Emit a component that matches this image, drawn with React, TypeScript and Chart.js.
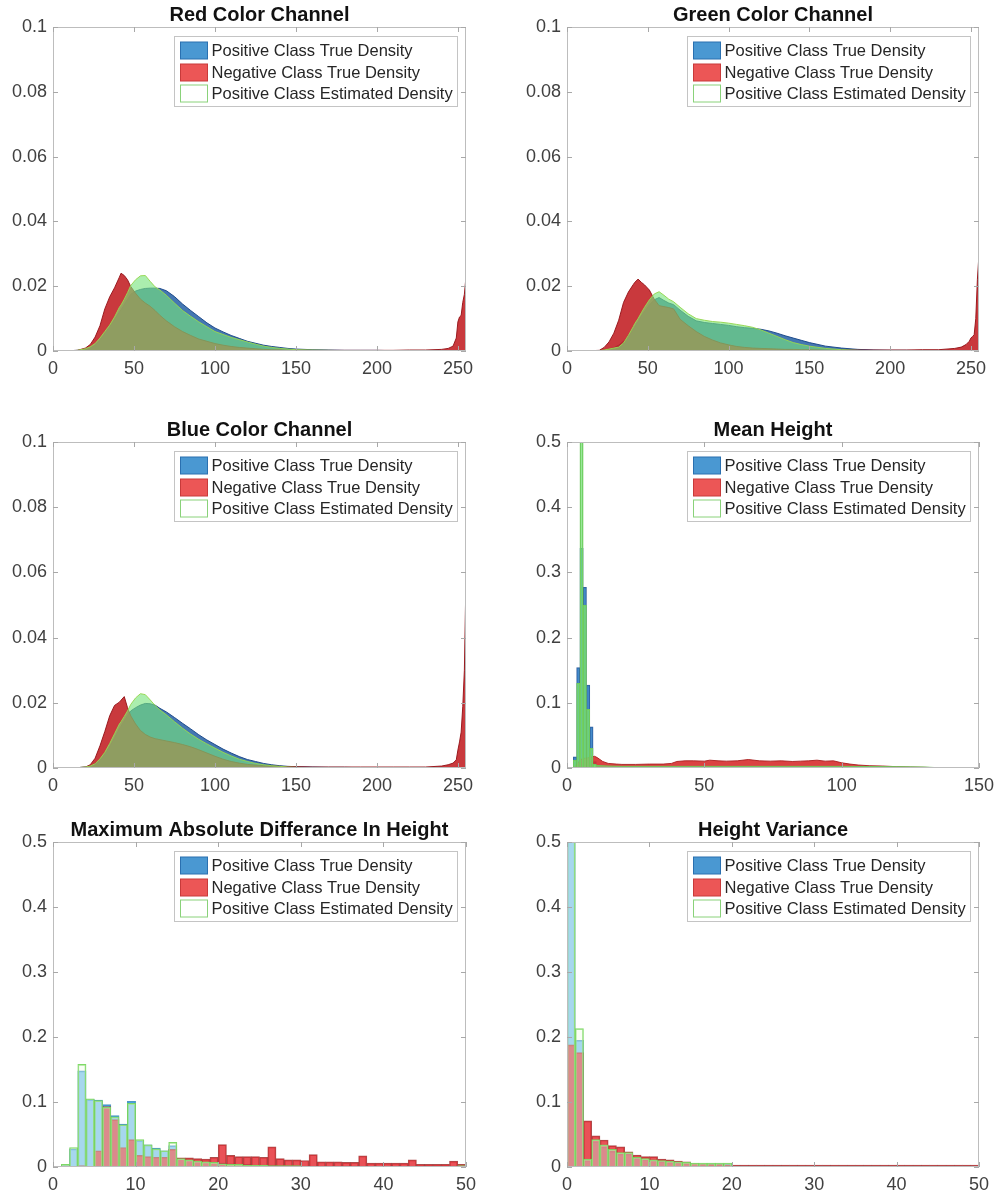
import React, { useEffect, useRef } from 'react';
import { Chart, registerables } from 'chart.js';

Chart.register(...registerables);

const FONT = '"Liberation Sans", Arial, Helvetica, sans-serif';
Chart.defaults.font.family = FONT;

// ---------------- DATA ----------------
const LEGEND_LABELS = [
  'Positive Class True Density',
  'Negative Class True Density',
  'Positive Class Estimated Density',
];

const TITLES = [
  'Red Color Channel',
  'Green Color Channel',
  'Blue Color Channel',
  'Mean Height',
  'Maximum Absolute Differance In Height',
  'Height Variance',
];

// colour channel histograms (intensity 0..255)
const X_RGB = [
  0, 5, 10, 15, 20, 23, 26, 29, 32, 35,
  38, 41, 42, 44, 46, 48, 51, 54, 57, 60,
  63, 66, 70, 75, 80, 85, 90, 95, 100, 105,
  110, 115, 120, 125, 130, 135, 140, 145, 150, 160,
  170, 180, 190, 200, 210, 220, 230, 240, 244, 247,
  249, 250, 251, 252, 253, 254, 255,
];

const RED_POS = [
  0, 0, 0.0001, 0.0002, 0.0005, 0.001, 0.0019, 0.0035, 0.0055, 0.0075,
  0.0098, 0.012, 0.0127, 0.0143, 0.0159, 0.0175, 0.0185, 0.019, 0.0193, 0.0194,
  0.0194, 0.0193, 0.0186, 0.0168, 0.0145, 0.0125, 0.0106, 0.0087, 0.0071, 0.0059,
  0.0048, 0.0039, 0.003, 0.0024, 0.0018, 0.0014, 0.0011, 0.0008, 0.0006, 0.0004,
  0.0003, 0.0002, 0.0002, 0.0002, 0.0001, 0.0001, 0.0001, 0.0001, 0.0001, 0.0001,
  0.0001, 0.0001, 0.0001, 0.0001, 0.0001, 0.0001, 0.0002,
];
const RED_NEG = [
  0, 0, 0.0001, 0.0002, 0.0009, 0.002, 0.0043, 0.0078, 0.013, 0.0167,
  0.0195, 0.0228, 0.024, 0.0233, 0.022, 0.0199, 0.0178, 0.016, 0.0148, 0.0138,
  0.0125, 0.011, 0.0093, 0.0075, 0.006, 0.0048, 0.0037, 0.003, 0.0023, 0.0018,
  0.0014, 0.0011, 0.0009, 0.0007, 0.0005, 0.0004, 0.0004, 0.0003, 0.0003, 0.0002,
  0.0002, 0.0002, 0.0002, 0.0002, 0.0002, 0.0003, 0.0003, 0.0005, 0.0008, 0.0015,
  0.004, 0.009, 0.0105, 0.011, 0.015, 0.0175, 0.023,
];
const RED_EST = [
  0, 0, 0, 0.0002, 0.0007, 0.0013, 0.0023, 0.004, 0.006, 0.008,
  0.0105, 0.0135, 0.0142, 0.016, 0.018, 0.0202, 0.022, 0.0232, 0.0233, 0.0215,
  0.0198, 0.0188, 0.0172, 0.0148, 0.0125, 0.0107, 0.009, 0.0075, 0.006, 0.0051,
  0.0042, 0.0035, 0.0028, 0.0021, 0.0015, 0.0011, 0.0008, 0.0006, 0.0004, 0.0003,
  0.0002, 0.0001, 0.0001, 0.0001, 0.0001, 0.0001, 0.0001, 0.0001, 0.0001, 0.0001,
  0.0001, 0.0001, 0.0001, 0.0001, 0.0001, 0.0001, 0.0001,
];

const GREEN_POS = [
  0, 0, 0, 0, 0.0001, 0.0003, 0.0006, 0.001, 0.0018, 0.003,
  0.0045, 0.0068, 0.0075, 0.009, 0.0108, 0.0122, 0.0142, 0.0158, 0.0165, 0.0156,
  0.0148, 0.0143, 0.0126, 0.0107, 0.0093, 0.0088, 0.0085, 0.0082, 0.0079, 0.0075,
  0.0072, 0.007, 0.0067, 0.0062, 0.0055, 0.0047, 0.004, 0.0033, 0.0026, 0.0015,
  0.0009, 0.0005, 0.0003, 0.0002, 0.0002, 0.0001, 0.0001, 0.0001, 0.0001, 0.0001,
  0.0001, 0.0001, 0.0001, 0.0001, 0.0001, 0.0001, 0.0001,
];
const GREEN_NEG = [
  0, 0, 0, 0.0001, 0.0002, 0.0011, 0.0028, 0.0055, 0.0095, 0.015,
  0.0182, 0.0205, 0.0212, 0.0222, 0.0212, 0.0204, 0.0188, 0.016, 0.014, 0.0137,
  0.0134, 0.013, 0.0098, 0.0078, 0.006, 0.0045, 0.0034, 0.0025, 0.0019, 0.0014,
  0.0011, 0.0009, 0.0008, 0.0007, 0.0006, 0.0005, 0.0005, 0.0004, 0.0004, 0.0003,
  0.0003, 0.0003, 0.0003, 0.0003, 0.0003, 0.0004, 0.0004, 0.0008, 0.0012, 0.002,
  0.003, 0.004, 0.0045, 0.005, 0.01, 0.022, 0.03,
];
const GREEN_EST = [
  0, 0, 0, 0, 0.0001, 0.0003, 0.0006, 0.0009, 0.0012, 0.0025,
  0.0048, 0.0075, 0.0085, 0.01, 0.0118, 0.0135, 0.0158, 0.0176, 0.0183, 0.0172,
  0.016, 0.0152, 0.0135, 0.0115, 0.01, 0.0095, 0.0091, 0.0089, 0.0086, 0.0082,
  0.0078, 0.0073, 0.0065, 0.0055, 0.0045, 0.0035, 0.0026, 0.002, 0.0015, 0.0008,
  0.0004, 0.0002, 0.0001, 0.0001, 0.0001, 0.0001, 0.0001, 0, 0, 0,
  0, 0, 0, 0, 0, 0, 0,
];

const BLUE_POS = [
  0, 0, 0, 0.0001, 0.0003, 0.0006, 0.0014, 0.0025, 0.0045, 0.0065,
  0.0092, 0.012, 0.0128, 0.0145, 0.016, 0.0175, 0.0185, 0.0193, 0.0198, 0.0197,
  0.0193, 0.0183, 0.0172, 0.0155, 0.0137, 0.012, 0.0102, 0.0086, 0.0072, 0.0058,
  0.0046, 0.0035, 0.0026, 0.002, 0.0014, 0.001, 0.0007, 0.0005, 0.0004, 0.0003,
  0.0002, 0.0002, 0.0001, 0.0001, 0.0001, 0.0001, 0.0001, 0.0001, 0.0001, 0.0001,
  0.0001, 0.0001, 0.0001, 0.0001, 0.0001, 0.0001, 0.0002,
];
const BLUE_NEG = [
  0, 0, 0, 0.0001, 0.0003, 0.001, 0.003, 0.0068, 0.0112, 0.016,
  0.0192, 0.0202, 0.0208, 0.0219, 0.0185, 0.016, 0.0135, 0.0115, 0.0103, 0.0095,
  0.009, 0.0087, 0.0083, 0.0078, 0.0072, 0.0065, 0.0056, 0.0046, 0.0036, 0.0027,
  0.002, 0.0015, 0.0011, 0.0009, 0.0007, 0.0006, 0.0005, 0.0004, 0.0004, 0.0003,
  0.0003, 0.0003, 0.0003, 0.0003, 0.0003, 0.0003, 0.0003, 0.0006, 0.001, 0.0015,
  0.0025, 0.0055, 0.008, 0.011, 0.0188, 0.03, 0.059,
];
const BLUE_EST = [
  0, 0, 0, 0.0001, 0.0003, 0.0006, 0.0013, 0.0028, 0.0048, 0.0075,
  0.0105, 0.0135, 0.0142, 0.0158, 0.0175, 0.0195, 0.0215, 0.0228, 0.0225, 0.0209,
  0.0192, 0.0178, 0.0163, 0.0142, 0.0122, 0.0104, 0.0088, 0.0074, 0.0061, 0.0048,
  0.0037, 0.0027, 0.002, 0.0014, 0.001, 0.0007, 0.0005, 0.0003, 0.0002, 0.0001,
  0.0001, 0, 0, 0, 0, 0, 0, 0, 0, 0,
  0, 0, 0, 0, 0, 0, 0,
];

// Mean height
const MH_BIN_X = [2.9, 4.1, 5.3, 6.5, 7.7, 8.9, 10.1, 11.3];
const MH_POS = [0.017, 0.154, 0.337, 0.277, 0.127, 0.063, 0.01, 0.003];
const MH_EST = [0.012, 0.13, 0.53, 0.25, 0.09, 0.03, 0.006, 0.002];
const MH_NEG_X = [
  0, 2, 3, 4, 5, 6, 7, 8, 9, 10,
  11, 12, 13, 15, 18, 20, 25, 30, 35, 38,
  40, 43, 46, 50, 52, 55, 58, 62, 66, 70,
  74, 78, 82, 85, 88, 91, 94, 97, 100, 103,
  106, 110, 115, 120, 125, 130, 135, 140, 150,
];
const MH_NEG = [
  0, 0, 0.002, 0.008, 0.013, 0.015, 0.015, 0.016, 0.017, 0.018,
  0.016, 0.013, 0.01, 0.007, 0.006, 0.0055, 0.0055, 0.006, 0.006, 0.007,
  0.01, 0.011, 0.011, 0.0105, 0.012, 0.011, 0.0105, 0.011, 0.013, 0.011,
  0.0105, 0.011, 0.01, 0.0105, 0.011, 0.012, 0.0105, 0.011, 0.008, 0.006,
  0.0046, 0.0035, 0.003, 0.002, 0.0015, 0.001, 0.0004, 0, 0,
];
const MH_EST_TAIL_X = [9.5, 10, 15, 20, 40, 60, 80, 100, 120, 130, 135, 140];
const MH_EST_TAIL = [0, 0.004, 0.003, 0.0025, 0.0025, 0.0025, 0.0025, 0.0025, 0.002, 0.0015, 0.0005, 0];

// unit-width bins 0..51 (the last one sits just past the axis limit)
const BIN50_X = [
  0.5, 1.5, 2.5, 3.5, 4.5, 5.5, 6.5, 7.5, 8.5, 9.5,
  10.5, 11.5, 12.5, 13.5, 14.5, 15.5, 16.5, 17.5, 18.5, 19.5,
  20.5, 21.5, 22.5, 23.5, 24.5, 25.5, 26.5, 27.5, 28.5, 29.5,
  30.5, 31.5, 32.5, 33.5, 34.5, 35.5, 36.5, 37.5, 38.5, 39.5,
  40.5, 41.5, 42.5, 43.5, 44.5, 45.5, 46.5, 47.5, 48.5, 49.5,
  50.5,
];

const MAD_POS = [
  0, 0.003, 0.028, 0.148, 0.104, 0.103, 0.096, 0.079, 0.066, 0.101,
  0.041, 0.034, 0.029, 0.025, 0.033, 0.013, 0.011, 0.009, 0.008, 0.007,
  0.006, 0.005, 0.004, 0.004, 0.003, 0.003, 0.003, 0.002, 0.002, 0.002,
  0.001, 0.001, 0.001, 0.001, 0.001, 0.001, 0.001, 0.001, 0.001, 0.001,
  0.001, 0.001, 0.001, 0.001, 0.001, 0.001, 0.001, 0.001, 0.001, 0.001,
  0,
];
const MAD_NEG = [
  0, 0, 0.001, 0.002, 0.001, 0.025, 0.093, 0.073, 0.03, 0.042,
  0.018, 0.016, 0.015, 0.015, 0.027, 0.014, 0.014, 0.013, 0.012, 0.015,
  0.0345, 0.018, 0.016, 0.016, 0.016, 0.015, 0.031, 0.013, 0.011, 0.011,
  0.01, 0.019, 0.008, 0.008, 0.008, 0.007, 0.007, 0.017, 0.006, 0.006,
  0.006, 0.006, 0.006, 0.011, 0.004, 0.004, 0.004, 0.004, 0.009, 0.004,
  0,
];
const MAD_EST = [
  0.001, 0.004, 0.03, 0.158, 0.105, 0.102, 0.092, 0.077, 0.065, 0.098,
  0.042, 0.034, 0.028, 0.025, 0.038, 0.013, 0.011, 0.009, 0.008, 0.007,
  0.005, 0.004, 0.004, 0.003, 0.003, 0.003, 0.002, 0.002, 0.002, 0.002,
  0.001, 0.001, 0.001, 0.001, 0.001, 0.001, 0.001, 0.001, 0.001, 0.001,
  0.001, 0.001, 0.001, 0.001, 0.001, 0.001, 0.001, 0.001, 0.001, 0.002,
  0.028,
];

const HV_POS = [
  0.56, 0.195, 0.01, 0.039, 0.031, 0.024, 0.02, 0.02, 0.014, 0.012,
  0.011, 0.009, 0.008, 0.007, 0.006, 0.005, 0.005, 0.005, 0.005, 0.005,
  0.001, 0.001, 0.001, 0.001, 0.001, 0.001, 0.001, 0.001, 0.001, 0.001,
  0.001, 0.001, 0.001, 0.001, 0.001, 0.001, 0.001, 0.001, 0.001, 0.001,
  0.001, 0.001, 0.001, 0.001, 0.001, 0.001, 0.001, 0.001, 0.001, 0.001,
  0,
];
const HV_NEG = [
  0.188, 0.176, 0.071, 0.048, 0.0415, 0.033, 0.031, 0.0235, 0.0185, 0.016,
  0.016, 0.012, 0.011, 0.009, 0.008, 0.0056, 0.0046, 0.004, 0.004, 0.0035,
  0.003, 0.003, 0.003, 0.003, 0.003, 0.003, 0.003, 0.003, 0.003, 0.003,
  0.003, 0.003, 0.003, 0.003, 0.003, 0.003, 0.003, 0.003, 0.003, 0.003,
  0.003, 0.003, 0.003, 0.003, 0.003, 0.003, 0.003, 0.003, 0.003, 0.003,
  0,
];
const HV_EST = [
  0.6, 0.213, 0.012, 0.042, 0.034, 0.027, 0.022, 0.022, 0.015, 0.013,
  0.011, 0.01, 0.009, 0.008, 0.007, 0.006, 0.006, 0.006, 0.006, 0.006,
  0.001, 0.001, 0.001, 0.001, 0.001, 0.001, 0.001, 0.001, 0.001, 0.001,
  0.001, 0.001, 0.001, 0.001, 0.001, 0.001, 0.001, 0.001, 0.001, 0.001,
  0.001, 0.001, 0.001, 0.001, 0.001, 0.001, 0.001, 0.001, 0.001, 0.001,
  0,
];

// ---------------- STYLE ----------------
const AREA = {
  pos: { bg: 'rgba(35,95,165,0.85)', bd: 'rgba(25,70,135,0.95)' },
  neg: { bg: 'rgba(195,35,40,0.9)', bd: 'rgba(150,20,25,0.95)' },
  est: { bg: 'rgba(120,228,125,0.62)', bd: 'rgba(150,215,80,0.95)' },
};
const MH = {
  pos: { bg: 'rgba(50,130,200,0.85)', bd: 'rgba(30,80,150,0.9)' },
  neg: { bg: 'rgba(215,45,45,0.9)', bd: 'rgba(170,30,30,0.9)' },
  est: { bg: 'rgba(120,228,125,0.6)', bd: 'rgba(110,200,90,1)' },
};
const BARS = {
  pos: { bg: 'rgba(40,155,235,0.62)', bd: 'rgba(60,140,190,0.9)' },
  neg: { bg: 'rgba(228,38,45,0.8)', bd: 'rgba(160,45,45,0.85)' },
  est: { bg: 'rgba(240,252,232,0.38)', bd: 'rgba(120,215,95,0.95)' },
};
const SWATCH = [
  { bg: '#4a98d2', bd: '#2a70b0' },
  { bg: '#ec5656', bd: '#c83a3a' },
  { bg: '#ffffff', bd: '#8ad27a' },
];

const pts = (xs: number[], ys: number[]) => xs.map((x, i) => ({ x, y: ys[i] }));

function framePlugin(title: string) {
  return {
    id: 'frame',
    afterDraw(chart: any) {
      const { ctx, chartArea: a, scales } = chart;
      const xs = scales.x;
      const ys = scales.y;
      ctx.save();
      ctx.strokeStyle = '#bdbdbd';
      ctx.lineWidth = 1;
      ctx.strokeRect(a.left + 0.5, a.top + 0.5, a.right - a.left - 1, a.bottom - a.top - 1);
      ctx.strokeStyle = '#a8a8a8';
      ctx.beginPath();
      xs.ticks.forEach((t: any) => {
        const px = Math.round(xs.getPixelForValue(t.value)) + 0.5;
        ctx.moveTo(px, a.bottom);
        ctx.lineTo(px, a.bottom - 5);
        ctx.moveTo(px, a.top);
        ctx.lineTo(px, a.top + 5);
      });
      ys.ticks.forEach((t: any) => {
        const py = Math.round(ys.getPixelForValue(t.value)) + 0.5;
        ctx.moveTo(a.left, py);
        ctx.lineTo(a.left + 5, py);
        ctx.moveTo(a.right, py);
        ctx.lineTo(a.right - 5, py);
      });
      ctx.stroke();
      ctx.fillStyle = '#111111';
      ctx.font = 'bold 20px ' + FONT;
      ctx.textAlign = 'center';
      ctx.textBaseline = 'middle';
      ctx.fillText(title, (a.left + a.right) / 2, a.top - 12);
      const w = 283;
      const h = 70;
      const bx = Math.round(a.right - 9 - w) + 0.5;
      const by = Math.round(a.top + 9) + 0.5;
      ctx.fillStyle = '#ffffff';
      ctx.fillRect(bx, by, w, h);
      ctx.strokeStyle = '#c4c4c4';
      ctx.strokeRect(bx, by, w, h);
      const rows = [14, 36, 57];
      ctx.font = '16.5px ' + FONT;
      ctx.textAlign = 'left';
      LEGEND_LABELS.forEach((lab, i) => {
        const cy = by + rows[i];
        ctx.fillStyle = SWATCH[i].bg;
        ctx.fillRect(bx + 6, cy - 8.5, 27, 17);
        ctx.strokeStyle = SWATCH[i].bd;
        ctx.strokeRect(bx + 6, cy - 8.5, 27, 17);
        ctx.fillStyle = '#262626';
        ctx.fillText(lab, bx + 37, cy + 1);
      });
      ctx.restore();
    },
  };
}

const fmtTick = (v: any) => String(Number(Number(v).toFixed(6)));

function scalesFor(xMax: number, xStep: number, yMax: number, yStep: number) {
  return {
    x: {
      type: 'linear',
      min: 0,
      max: xMax,
      offset: false,
      grid: { display: false, drawTicks: false, offset: false },
      border: { display: false },
      ticks: {
        stepSize: xStep,
        includeBounds: false,
        color: '#404040',
        font: { size: 18 },
        padding: 7,
        maxRotation: 0,
        autoSkip: false,
        callback: fmtTick,
      },
      afterFit: (s: any) => {
        s.height = 30;
      },
    },
    y: {
      type: 'linear',
      min: 0,
      max: yMax,
      grid: { display: false, drawTicks: false },
      border: { display: false },
      ticks: { stepSize: yStep, color: '#404040', font: { size: 18 }, padding: 6, callback: fmtTick },
      afterFit: (s: any) => {
        s.width = 53;
      },
    },
  };
}

function baseOptions(padTop: number, padRight: number, scales: any) {
  return {
    responsive: false,
    maintainAspectRatio: false,
    animation: false,
    devicePixelRatio: 1,
    events: [],
    layout: { padding: { top: padTop, right: padRight, left: 0, bottom: 0 } },
    plugins: { legend: { display: false }, tooltip: { enabled: false }, title: { display: false } },
    scales,
  };
}

function areaDs(data: any, st: any, order: number) {
  return {
    type: 'line',
    data,
    order,
    fill: 'origin',
    backgroundColor: st.bg,
    borderColor: st.bd,
    borderWidth: 1,
    pointRadius: 0,
    tension: 0,
  };
}

function barDs(data: any, st: any, order: number) {
  return {
    type: 'bar',
    data,
    order,
    grouped: false,
    categoryPercentage: 1,
    barPercentage: 1,
    backgroundColor: st.bg,
    borderColor: st.bd,
    borderWidth: 1,
  };
}

function rgbConfig(title: string, pos: number[], neg: number[], est: number[], padTop: number, padRight: number) {
  return {
    type: 'line',
    data: {
      datasets: [
        areaDs(pts(X_RGB, est), AREA.est, 0),
        areaDs(pts(X_RGB, neg), AREA.neg, 1),
        areaDs(pts(X_RGB, pos), AREA.pos, 2),
      ],
    },
    options: baseOptions(padTop, padRight, scalesFor(255, 50, 0.1, 0.02)),
    plugins: [framePlugin(title)],
  };
}

function meanHeightConfig(padTop: number, padRight: number) {
  return {
    type: 'bar',
    data: {
      datasets: [
        barDs(pts(MH_BIN_X, MH_EST), MH.est, 0),
        areaDs(pts(MH_EST_TAIL_X, MH_EST_TAIL), MH.est, 1),
        areaDs(pts(MH_NEG_X, MH_NEG), MH.neg, 2),
        barDs(pts(MH_BIN_X, MH_POS), MH.pos, 3),
      ],
    },
    options: baseOptions(padTop, padRight, scalesFor(150, 50, 0.5, 0.1)),
    plugins: [framePlugin(TITLES[3])],
  };
}

function bin50Config(title: string, pos: number[], neg: number[], est: number[], padTop: number, padRight: number) {
  return {
    type: 'bar',
    data: {
      datasets: [
        barDs(pts(BIN50_X, est), BARS.est, 0),
        barDs(pts(BIN50_X, neg), BARS.neg, 1),
        barDs(pts(BIN50_X, pos), BARS.pos, 2),
      ],
    },
    options: baseOptions(padTop, padRight, scalesFor(50, 10, 0.5, 0.1)),
    plugins: [framePlugin(title)],
  };
}

const LEFT_COL = { left: 0, width: 490, padRight: 24 };
const RIGHT_COL = { left: 514, width: 493, padRight: 28 };
const ROWS = [
  { top: 0, height: 381, padTop: 27 },
  { top: 400, height: 398, padTop: 42 },
  { top: 800, height: 397, padTop: 42 },
];

const PANELS = [
  { col: LEFT_COL, row: ROWS[0], make: (t: number, r: number) => rgbConfig(TITLES[0], RED_POS, RED_NEG, RED_EST, t, r) },
  { col: RIGHT_COL, row: ROWS[0], make: (t: number, r: number) => rgbConfig(TITLES[1], GREEN_POS, GREEN_NEG, GREEN_EST, t, r) },
  { col: LEFT_COL, row: ROWS[1], make: (t: number, r: number) => rgbConfig(TITLES[2], BLUE_POS, BLUE_NEG, BLUE_EST, t, r) },
  { col: RIGHT_COL, row: ROWS[1], make: (t: number, r: number) => meanHeightConfig(t, r) },
  { col: LEFT_COL, row: ROWS[2], make: (t: number, r: number) => bin50Config(TITLES[4], MAD_POS, MAD_NEG, MAD_EST, t, r) },
  { col: RIGHT_COL, row: ROWS[2], make: (t: number, r: number) => bin50Config(TITLES[5], HV_POS, HV_NEG, HV_EST, t, r) },
];

function Panel({ p }: { p: any }) {
  const ref = useRef<HTMLCanvasElement | null>(null);
  useEffect(() => {
    if (!ref.current) return;
    const chart = new Chart(ref.current, p.make(p.row.padTop, p.col.padRight) as any);
    return () => chart.destroy();
  }, [p]);
  return (
    <canvas
      ref={ref}
      width={p.col.width}
      height={p.row.height}
      style={{ position: 'absolute', left: p.col.left, top: p.row.top, width: p.col.width, height: p.row.height }}
    />
  );
}

export default function App() {
  return (
    <div
      style={{
        position: 'absolute',
        left: 0,
        top: 0,
        width: 997,
        height: 1196,
        overflow: 'hidden',
        background: '#ffffff',
      }}
    >
      {PANELS.map((p, i) => (
        <Panel key={i} p={p} />
      ))}
    </div>
  );
}
